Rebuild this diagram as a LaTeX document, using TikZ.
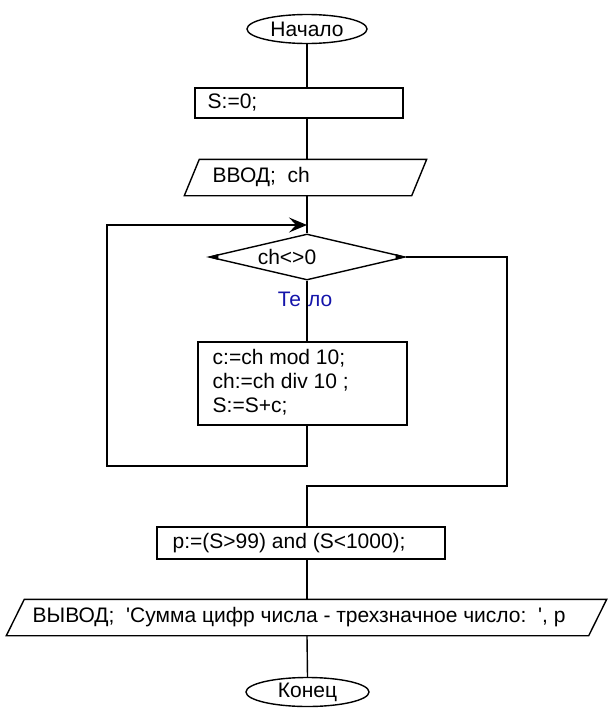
\documentclass[tikz,border=0pt]{standalone}
\usepackage{fontspec}
\setmainfont{Liberation Sans}[Ligatures=TeXOff]
\usetikzlibrary{shapes.geometric,arrows.meta}
\definecolor{tblue}{RGB}{20,20,170}
\begin{document}
\begin{tikzpicture}[x=1pt,y=-1pt,
  font=\fontsize{21}{24}\selectfont,
  line width=1.4pt,
  term/.style={draw, ellipse, minimum width=120pt, minimum height=29pt, inner sep=0pt},
  procbox/.style={draw, rectangle, inner sep=0pt},
  iobox/.style={rectangle, inner sep=0pt},
  txt/.style={inner sep=0pt, anchor=west},
  backarrow/.style={-{Stealth[length=18pt,width=15pt,inset=7pt]}}]
\useasboundingbox (0,0) rectangle (614,718);

% nodes
\node[term] (start) at (307,29) {Начало};
\node[procbox, minimum width=208pt, minimum height=30pt] (s0) at (299,103) {};
\node[txt] (s0t) at (207,103) {S:=0;};

\node[iobox, minimum width=226pt, minimum height=35pt] (in) at (305.5,177.5) {};
\draw ([xshift=7.5pt]in.north west) -- ([xshift=7.5pt]in.north east)
   -- ([xshift=-7.5pt]in.south east) -- ([xshift=-7.5pt]in.south west) -- cycle;
\node[txt] (int) at (212,177) {ВВОД;\ \ ch};

\coordinate (join) at (307,225);
\node[draw, diamond, minimum width=196pt, minimum height=46pt, inner sep=0pt] (cond) at (307,257) {};
\node[inner sep=0pt] (condt) at (287,257) {ch<>0};
\fill (cond.west) -- ++(10,-3) -- ++(0,6) -- cycle;
\fill (cond.east) -- ++(-10,-3) -- ++(0,6) -- cycle;
\node[inner sep=0pt, text=tblue] (tl) at (305,299) {Те\hspace{7pt}ло};

\node[procbox, minimum width=209pt, minimum height=83pt] (body) at (302.5,383.5) {};
\node[txt, align=left] (bt) at (212,382) {c:=ch mod 10;\\ch:=ch div 10 ;\\S:=S+c;};

\coordinate (lb) at (107,466);
\coordinate (rc) at (507,486);

\node[procbox, minimum width=288pt, minimum height=32pt] (p) at (301,543) {};
\node[txt] (pt) at (172,543) {p:=(S>99) and (S<1000);};

\node[iobox, minimum width=581pt, minimum height=35pt] (out) at (306.5,617.5) {};
\draw ([xshift=9pt]out.north west) -- ([xshift=9pt]out.north east)
   -- ([xshift=-9pt]out.south east) -- ([xshift=-9pt]out.south west) -- cycle;
\node[txt] (outt) at (32,617) {ВЫВОД;\ \ 'Сумма цифр числа - трехзначное число:\ \ ', p};

\node[term, minimum width=123pt] (end) at (307.5,692) {Конец};

% connectors
\draw (start.south) -- (start.south |- s0.north);
\draw (start.south |- s0.south) -- (start.south |- in.north);
\draw (join |- in.south) -- (cond.north);
\draw (cond.south) -- (cond.south |- body.north);
\draw[backarrow] (cond.south |- body.south) |- (lb) |- (join);
\draw (cond.east) -| (rc) -| (cond.south |- p.north);
\draw (cond.south |- p.south) -- (cond.south |- out.north);
\draw (cond.south |- out.south) -- (end.north);
\end{tikzpicture}
\end{document}
